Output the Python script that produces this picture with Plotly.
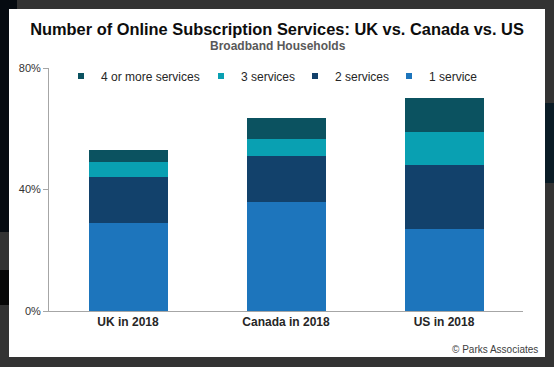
import plotly.graph_objects as go

# ---- data ----
categories = ["UK in 2018", "Canada in 2018", "US in 2018"]
one_service = [29, 36, 27]
two_services = [15, 15, 21]
three_services = [5, 5.5, 11]
four_plus = [4, 7, 11]
series_names = ["1 service", "2 services", "3 services", "4 or more services"]
series_colors = ["#1d75bc", "#12416b", "#09a0b2", "#0b5260"]
y_ticks = [0, 40, 80]
y_ticklabels = ["0%", "40%", "80%"]

W, H = 554, 367
L, R, T, B = 49, 31, 68, 56
PW, PH = W - L - R, H - T - B

def px(x):  # container pixel -> paper x
    return (x - L) / PW

def py(y):  # container pixel -> paper y
    return (H - B - y) / PH

FONT = "Liberation Sans, Arial, sans-serif"

fig = go.Figure()
values = [one_service, two_services, three_services, four_plus]
for name, vals, col in zip(series_names, values, series_colors):
    fig.add_trace(go.Bar(x=categories, y=vals, name=name, marker_color=col,
                         marker_line_width=0, showlegend=False, legendgroup=name))

# legend entries (one legend per entry, to place them like the reference)
legend_ids = {"4 or more services": "legend", "3 services": "legend2",
              "2 services": "legend3", "1 service": "legend4"}
legend_x = {"legend": 61, "legend2": 201, "legend3": 295, "legend4": 389}
for name, col in zip(series_names, series_colors):
    fig.add_trace(go.Scatter(x=[None], y=[None], mode="markers", name=name,
                             marker=dict(symbol="square", size=6, color=col),
                             legend=legend_ids[name], legendgroup=name,
                             showlegend=True))

legend_common = dict(orientation="h", xref="container", yref="container",
                     xanchor="left", yanchor="middle", y=1 - 76 / H,
                     bgcolor="rgba(0,0,0,0)", borderwidth=0, itemwidth=30,
                     font=dict(family=FONT, size=12, color="#262626"))
layout_legends = {}
for lid, xp in legend_x.items():
    layout_legends[lid] = dict(legend_common, x=xp / W)

def rect(x0, x1, y0, y1, color):
    return dict(type="rect", xref="paper", yref="paper", x0=px(x0), x1=px(x1),
                y0=py(y1), y1=py(y0), fillcolor=color, line_width=0, layer="below")

shapes = [
    rect(0, 9, 0, 232, "#060b11"),
    rect(0, 17, 0, 9, "#060b11"),
    rect(0, 9, 270, 305, "#080808"),
    rect(545, 554, 103, 183, "#0a1c26"),
    rect(9, 545, 9, 357, "#ffffff"),
]

annotations = [
    dict(text="<b>Broadband Households</b>", xref="paper", yref="paper",
         x=px(278), y=py(46), showarrow=False, xanchor="center", yanchor="middle",
         font=dict(family=FONT, size=12, color="#595959")),
    dict(text="© Parks Associates", xref="paper", yref="paper",
         x=px(540), y=py(349), showarrow=False, xanchor="right", yanchor="middle",
         font=dict(family=FONT, size=10, color="#404040")),
]

fig.update_layout(
    width=W, height=H, margin=dict(l=L, r=R, t=T, b=B, autoexpand=False),
    paper_bgcolor="#333333", plot_bgcolor="rgba(0,0,0,0)",
    barmode="stack", bargap=0.5,
    title=dict(text="<b>Number of Online Subscription Services: UK vs. Canada vs. US</b>",
               x=277 / W, xanchor="center", y=1 - 29 / H, yanchor="middle",
               font=dict(family=FONT, size=16.4, color="#0d0d0d")),
    shapes=shapes, annotations=annotations,
    **layout_legends,
)
fig.update_xaxes(showline=True, linecolor="#a6a6a6", linewidth=1, ticks="",
                 showgrid=False, zeroline=False,
                 tickfont=dict(family=FONT, size=12, color="#262626", weight="bold"))
fig.update_yaxes(range=[0, 80], tickvals=y_ticks, ticktext=y_ticklabels,
                 showline=True, linecolor="#a6a6a6", linewidth=1, ticks="outside",
                 ticklen=5, tickcolor="#a6a6a6", showgrid=False, zeroline=False,
                 tickfont=dict(family=FONT, size=11, color="#333333"))

fig.write_html("out.html", config={"displayModeBar": False},
               post_script="document.body.style.margin='0';document.body.style.background='#333333';")
